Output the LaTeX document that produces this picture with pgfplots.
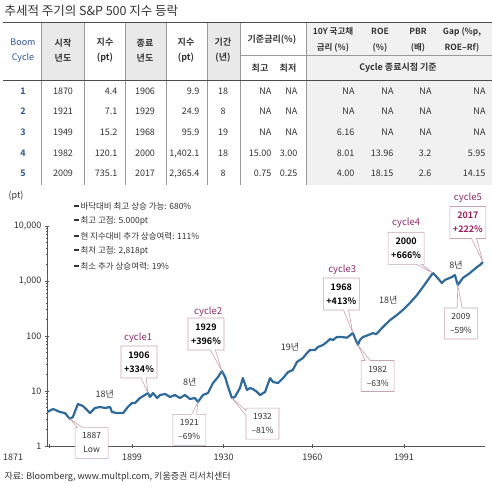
\documentclass[border=0pt]{standalone}
\usepackage{fontspec}
\setmainfont{Noto Sans CJK KR}[BoldFont={Noto Sans CJK KR Bold}]
\usepackage{pgfplots}
\pgfplotsset{compat=1.18}
\usepackage{pgfplotstable}
\usetikzlibrary{shapes.callouts}
\definecolor{linecol}{HTML}{2F6A9A}
\definecolor{txt}{HTML}{333333}
\definecolor{cyc}{HTML}{8E2C6A}
\definecolor{callbd}{HTML}{C9A2B6}
\definecolor{hdr}{HTML}{E9E9E9}
\definecolor{rblk}{HTML}{F1F1F1}
\definecolor{tblue}{HTML}{2A5593}
\definecolor{rulec}{HTML}{9A9A9A}
\definecolor{axcol}{HTML}{555555}
\definecolor{c5}{HTML}{9B1F5E}
\newcommand\bulbar{\rule[2.6pt]{5pt}{1.6pt}\hspace{2pt}}

\pgfplotstableread{
year val
1870.3 4.15
1872.3 4.71
1874.7 4.15
1876.3 3.98
1878.0 3.10
1879.0 3.37
1880.7 5.80
1882.4 5.34
1884.8 3.98
1886.5 4.91
1888.2 5.12
1889.9 4.91
1891.6 5.12
1892.2 4.15
1893.9 3.98
1896.0 3.98
1897.6 5.12
1899.0 6.05
1900.0 6.05
1901.7 7.46
1903.4 8.46
1904.4 9.20
1905.1 7.78
1906.1 9.20
1907.5 7.46
1908.5 8.46
1910.2 8.82
1911.9 7.78
1913.5 8.46
1915.2 7.46
1916.9 8.46
1918.6 7.16
1920.3 7.46
1921.3 6.31
1923.0 8.46
1924.7 9.20
1926.4 13.98
1928.1 17.97
1929.4 23.1
1930.5 17.97
1931.5 11.82
1932.8 7.46
1933.8 7.78
1935.5 11.34
1936.5 17.2
1937.9 10.43
1938.9 11.34
1939.9 10.88
1941.3 9.59
1942.3 8.46
1944.0 9.59
1945.7 17.2
1946.7 14.58
1948.4 13.98
1950.1 17.2
1951.8 22.15
1953.4 24.1
1954.8 33.7
1955.8 36.6
1956.8 39.8
1958.2 49.1
1959.2 55.6
1960.9 55.6
1961.9 63.1
1963.6 68.6
1964.9 77.8
1966.0 88.2
1967.0 84.6
1968.3 95.9
1970.0 95.9
1971.7 93.0
1973.7 113
1974.4 92
1975.4 68.6
1976.1 84.6
1977.1 95.9
1978.9 104
1980.5 113
1981.6 108
1983.9 146
1986.3 195
1988.6 241
1990.6 297
1993.0 398
1995.4 556
1997.4 778
1999.8 1182
2000.8 1397
2002.1 1182
2003.8 920
2004.8 1042
2007.2 1182
2008.2 1285
2009.2 846
2010.9 1134
2013.3 1397
2015.7 1797
2016.7 1954
2017.7 2215
}\spx

\begin{document}
\begin{tikzpicture}[
  callbox/.style={rectangle callout, draw=callbd, fill=white, line width=0.6pt,
    align=center, minimum width=36pt, minimum height=32pt, inner sep=1.5pt,
    callout pointer width=5pt, font=\fontsize{9}{14}\selectfont\bfseries, text=black},
  lowbox/.style={rectangle callout, draw=callbd, fill=white, line width=0.6pt,
    align=center, minimum width=33pt, minimum height=31pt, inner sep=1.5pt,
    callout pointer width=5pt, font=\fontsize{8.5}{14}\selectfont, text=txt},
  cyclab/.style={text=cyc, font=\fontsize{9.5}{10}\selectfont},
  yrlab/.style={text=txt, font=\fontsize{9}{10}\selectfont}]
\useasboundingbox (0,0) rectangle (492pt,-486pt);
\begin{scope}[x=1pt,y=-1pt, font=\fontsize{9}{10}\selectfont, text=txt,
  c/.style={anchor=base}, r/.style={anchor=base east}]
% title
\node[anchor=west, font=\fontsize{12.5}{14}\selectfont] at (1,11) {추세적 주기의 S\&P 500 지수 등락};
% fills
\fill[hdr] (41,22) rectangle (84,80);
\fill[hdr] (125,22) rectangle (166,80);
\fill[hdr] (207,22) rectangle (240,80);
\fill[rblk] (306,22) rectangle (492,185);
% vertical rules
\foreach \x in {41,84,125,166,207,240,306}
  \draw[rulec, line width=0.6pt] (\x,22) -- (\x,185);
\draw[rulec, line width=0.6pt] (240,55.7) -- (492,55.7);
\draw[black!70, line width=0.9pt] (3,22) -- (492,22);
\draw[black!70, line width=0.9pt] (3,80) -- (492,80);
% headers
\begin{scope}[font=\fontsize{9}{15}\selectfont\bfseries]
\node[align=center, text=tblue, font=\fontsize{9}{15}\selectfont] at (23,50.5) {Boom\\Cycle};
\node[align=center] at (63,50.5) {시작\\년도};
\node[align=center] at (105,50.5) {지수\\(pt)};
\node[align=center] at (145,50.5) {종료\\년도};
\node[align=center] at (186,50.5) {지수\\(pt)};
\node[align=center] at (223,50.5) {기간\\(년)};
\node at (272,40) {기준금리(\%)};
\node at (260,68) {최고};
\node at (288,68) {최저};
\node at (398,68) {Cycle 종료시점 기준};
\end{scope}
\begin{scope}[font=\fontsize{8.5}{16}\selectfont\bfseries]
\node[align=center] at (333,40) {10Y 국고채\\금리 (\%)};
\node[align=center] at (380,40) {ROE\\(\%)};
\node[align=center] at (418,40) {PBR\\(배)};
\node[align=center] at (462,40) {Gap (\%p,\\ROE--Rf)};
\end{scope}
% data
\foreach \v [count=\i] in {1,2,3,4,5}
  \node[c, text=tblue, font=\fontsize{9}{10}\selectfont\bfseries] at (23,{94.3+(\i-1)*20.6}) {\v};
\foreach \v [count=\i] in {1870,1921,1949,1982,2009}
  \node[c] at (63,{94.3+(\i-1)*20.6}) {\v};
\foreach \v [count=\i] in {4.4,7.1,15.2,120.1,735.1}
  \node[r] at (121,{94.3+(\i-1)*20.6}) {\v};
\foreach \v [count=\i] in {1906,1929,1968,2000,2017}
  \node[c] at (145,{94.3+(\i-1)*20.6}) {\v};
\foreach \v [count=\i] in {9.9,24.9,95.9,{1,402.1},{2,365.4}}
  \node[r] at (203,{94.3+(\i-1)*20.6}) {\v};
\foreach \v [count=\i] in {18,8,19,18,8}
  \node[c] at (223,{94.3+(\i-1)*20.6}) {\v};
\foreach \v [count=\i] in {NA,NA,NA,15.00,0.75}
  \node[r] at (275,{94.3+(\i-1)*20.6}) {\v};
\foreach \v [count=\i] in {NA,NA,NA,3.00,0.25}
  \node[r] at (301,{94.3+(\i-1)*20.6}) {\v};
\foreach \v [count=\i] in {NA,NA,6.16,8.01,4.00}
  \node[r] at (358,{94.3+(\i-1)*20.6}) {\v};
\foreach \v [count=\i] in {NA,NA,NA,13.96,18.15}
  \node[r] at (397,{94.3+(\i-1)*20.6}) {\v};
\foreach \v [count=\i] in {NA,NA,NA,3.2,2.6}
  \node[r] at (435,{94.3+(\i-1)*20.6}) {\v};
\foreach \v [count=\i] in {NA,NA,NA,5.95,14.15}
  \node[r] at (489,{94.3+(\i-1)*20.6}) {\v};
% chart texts
\node at (16,196) {(pt)};
\begin{scope}[font=\fontsize{8.5}{10}\selectfont]
\node[anchor=west] at (70,206) {\bulbar 바닥대비 최고 상승 가능: 680\%};
\node[anchor=west] at (70,221) {\bulbar 최고 고점: 5.000pt};
\node[anchor=west] at (70,236) {\bulbar 현 지수대비 추가 상승여력: 111\%};
\node[anchor=west] at (70,251) {\bulbar 최저 고점: 2,818pt};
\node[anchor=west] at (70,266) {\bulbar 최소 추가 상승여력: 19\%};
\end{scope}
\node[anchor=west] at (1,477) {자료: Bloomberg, www.multpl.com, 키움증권 리서치센터};
\end{scope}

\begin{axis}[at={(47pt,-446pt)}, anchor=south west, scale only axis,
  width=438pt, height=220pt, ymode=log, ymin=1, ymax=10000,
  xmin=1870.25, xmax=2018.4, clip=false,
  axis lines=left, axis line style={-, draw=axcol, line width=0.7pt},
  tick style={draw=axcol, line width=0.6pt}, tick align=center, major tick length=4pt,
  minor tick num=0,
  ytick={1,10,100,1000,10000}, yticklabels={1,10,100,{1,000},{10,000}},
  xtick={1899,1930,1960,1991}, xticklabels={1899,1930,1960,1991},
  extra x ticks={1871}, extra x tick labels={1871},
  extra x tick style={xticklabel style={xshift=-36pt}},
  /pgf/number format/assume math mode=true,
  tick label style={font=\fontsize{9}{10}\selectfont, text=txt},
  xticklabel style={yshift=-2pt}
]
\addplot[color=linecol, line width=2.2pt, line join=round, mark=none] table[x=year,y=val] {\spx};

\node[callbox, callout absolute pointer={(axis cs:1904.4,9.2)}] at (rel axis cs:0.210,0.382) {1906\\+334\%};
\node[callbox, callout absolute pointer={(axis cs:1929.4,23.1)}] at (rel axis cs:0.363,0.509) {1929\\+396\%};
\node[callbox, callout absolute pointer={(axis cs:1973.7,113)}] at (rel axis cs:0.672,0.691) {1968\\+413\%};
\node[callbox, callout absolute pointer={(axis cs:2000.8,1397)}] at (rel axis cs:0.820,0.898) {2000\\+666\%};
\node[callbox, text=c5, callout absolute pointer={(axis cs:2017.7,2215)}] at (rel axis cs:0.961,1.016) {2017\\+222\%};

\node[lowbox, callout absolute pointer={(axis cs:1878.0,3.10)}] at (rel axis cs:0.102,0.014) {1887\\Low};
\node[lowbox, callout absolute pointer={(axis cs:1921.3,6.31)}] at (rel axis cs:0.325,0.073) {1921\\–69\%};
\node[lowbox, callout absolute pointer={(axis cs:1932.8,7.46)}] at (rel axis cs:0.492,0.102) {1932\\–81\%};
\node[lowbox, callout absolute pointer={(axis cs:1975.4,68.6)}] at (rel axis cs:0.755,0.318) {1982\\–63\%};
\node[lowbox, callout absolute pointer={(axis cs:2009.2,846)}] at (rel axis cs:0.945,0.557) {2009\\–59\%};

\node[cyclab] at (rel axis cs:0.208,0.491) {cycle1};
\node[cyclab] at (rel axis cs:0.368,0.609) {cycle2};
\node[cyclab] at (rel axis cs:0.674,0.800) {cycle3};
\node[cyclab] at (rel axis cs:0.820,1.014) {cycle4};
\node[cyclab] at (rel axis cs:0.961,1.127) {cycle5};

\node[yrlab] at (rel axis cs:0.132,0.236) {18년};
\node[yrlab] at (rel axis cs:0.326,0.291) {8년};
\node[yrlab] at (rel axis cs:0.555,0.450) {19년};
\node[yrlab] at (rel axis cs:0.779,0.664) {18년};
\node[yrlab] at (rel axis cs:0.934,0.823) {8년};
\end{axis}
\end{tikzpicture}
\end{document}
